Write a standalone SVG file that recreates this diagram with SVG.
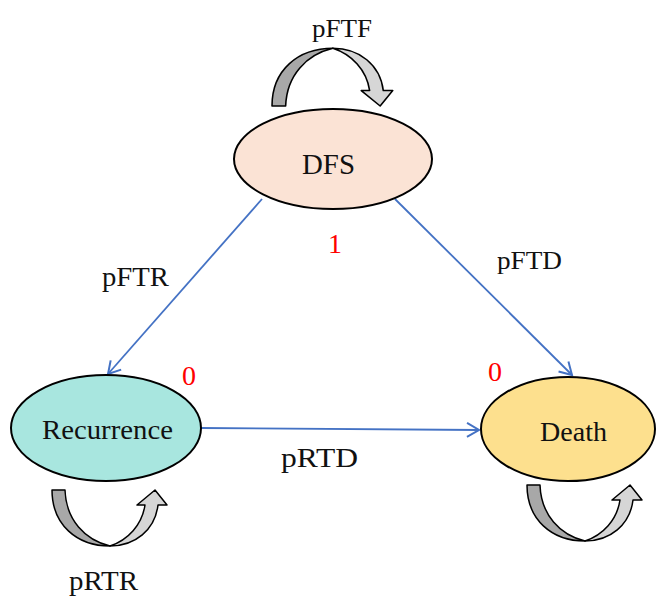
<svg xmlns="http://www.w3.org/2000/svg" width="657" height="598" viewBox="0 0 657 598">
<style>
  .node { stroke: #000; stroke-width: 2; }
  .lbl { font-family: "Liberation Serif", "Times New Roman", serif; fill: #111; }
  .num { font-family: "Liberation Serif", "Times New Roman", serif; fill: #FF0000; font-size: 28px; text-anchor: middle; }
  .edge { stroke: #4472C4; stroke-width: 1.8; fill: none; marker-end: url(#arr); }
  .dark { fill: #A8A8A8; stroke: #000; stroke-width: 1.5; stroke-linejoin: round; }
  .light { fill: #D6D6D6; stroke: #000; stroke-width: 1.5; stroke-linejoin: round; }
</style>
<defs>
  <marker id="arr" markerUnits="userSpaceOnUse" markerWidth="16" markerHeight="16" refX="13" refY="8" orient="auto" viewBox="0 0 16 16">
    <path d="M1,1 L13,8 L1,15" fill="none" stroke="#4472C4" stroke-width="2"/>
  </marker>
  <g id="loop">
    <path class="dark" d="M0,0 L13,0 C14,30 33,50 58,56 C25,56 0,35 0,0 Z"/>
    <path class="light" d="M58,56 C83,56 103,40 106,15 L115,15 L103,0 L85,15 L93,15 C90,35 76,50 58,56 Z"/>
  </g>
</defs>
<rect width="657" height="598" fill="#fff"/>
<g id="connectors">
  <line class="edge" x1="262" y1="199" x2="108" y2="374"/>
  <line class="edge" x1="395" y1="199" x2="572" y2="375"/>
  <line class="edge" x1="201" y1="428" x2="479" y2="430"/>
</g>
<g id="loop-dfs"><use href="#loop" transform="translate(272,106) scale(1.05,-1.03)"/></g>
<g id="loop-recurrence"><use href="#loop" transform="translate(52,490)"/></g>
<g id="loop-death"><use href="#loop" transform="translate(527,485)"/></g>
<g id="node-dfs">
  <ellipse class="node" cx="333" cy="159" rx="99" ry="50" fill="#FBE3D5"/>
  <text class="lbl" x="302" y="174" font-size="29" textLength="53" lengthAdjust="spacingAndGlyphs">DFS</text>
</g>
<g id="node-recurrence">
  <ellipse class="node" cx="106" cy="428" rx="95" ry="53" fill="#A8E6DF"/>
  <text class="lbl" x="42" y="439" font-size="27" textLength="131" lengthAdjust="spacingAndGlyphs">Recurrence</text>
</g>
<g id="node-death">
  <ellipse class="node" cx="568" cy="429" rx="87" ry="52" fill="#FDE08E"/>
  <text class="lbl" x="540" y="441" font-size="28" textLength="67" lengthAdjust="spacingAndGlyphs">Death</text>
</g>
<g id="labels">
  <text class="lbl" x="312" y="37" font-size="26" textLength="60" lengthAdjust="spacingAndGlyphs">pFTF</text>
  <text class="lbl" x="102" y="286" font-size="27" textLength="67" lengthAdjust="spacingAndGlyphs">pFTR</text>
  <text class="lbl" x="497" y="269" font-size="26" textLength="65" lengthAdjust="spacingAndGlyphs">pFTD</text>
  <text class="lbl" x="281" y="467" font-size="27" textLength="77" lengthAdjust="spacingAndGlyphs">pRTD</text>
  <text class="lbl" x="69" y="590" font-size="28" textLength="69" lengthAdjust="spacingAndGlyphs">pRTR</text>
  <text class="num" x="335" y="253">1</text>
  <text class="num" x="189" y="385">0</text>
  <text class="num" x="495" y="381">0</text>
</g>
</svg>
